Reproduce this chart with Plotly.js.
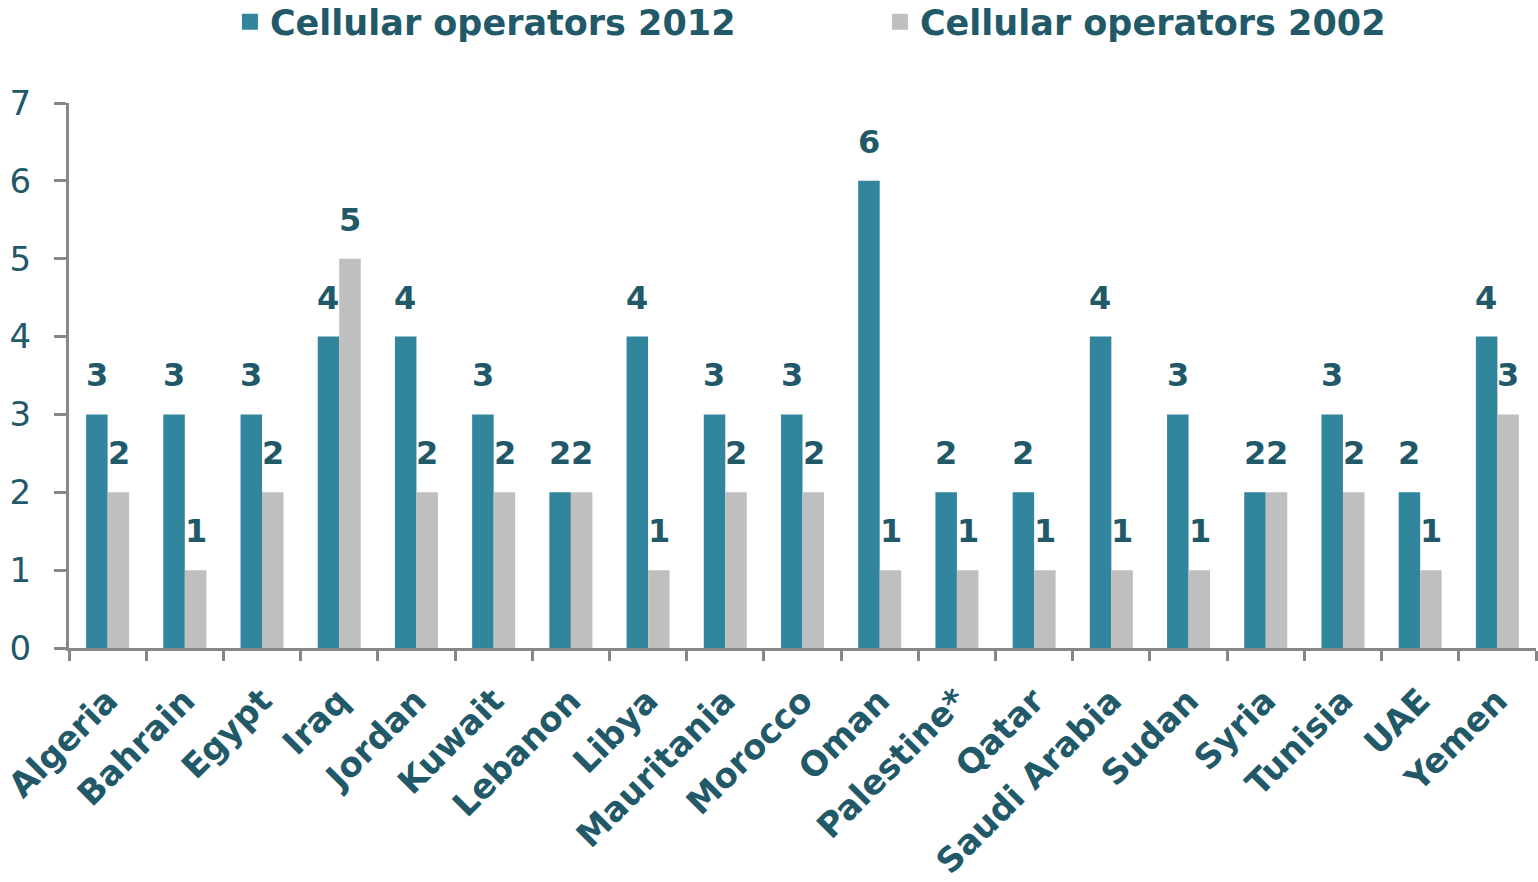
<!DOCTYPE html>
<html>
<head>
<meta charset="utf-8">
<script src="https://cdn.plot.ly/plotly-3.0.1.min.js"></script>
<style>html,body{margin:0;padding:0;background:#fff;}#chart{width:1538px;height:882px;}</style>
</head>
<body>
<div id="chart"></div>
<script>
const countries = ["Algeria","Bahrain","Egypt","Iraq","Jordan","Kuwait","Lebanon","Libya","Mauritania","Morocco","Oman","Palestine*","Qatar","Saudi Arabia","Sudan","Syria","Tunisia","UAE","Yemen"];
const operators2012 = [3,3,3,4,4,3,2,4,3,3,6,2,2,4,3,2,3,2,4];
const operators2002 = [2,1,2,5,2,2,2,1,2,2,1,1,1,1,1,2,2,1,3];
const seriesNames = ["Cellular operators 2012","Cellular operators 2002"];
const seriesColors = ["#31859C","#BFBFBF"];

const textColor = "#215968";
const axisColor = "#878787";
const fontFamily = "DejaVu Sans, Verdana, sans-serif";

const traces = [
  {type:"bar", name:seriesNames[0], x:countries, y:operators2012, marker:{color:seriesColors[0]}, showlegend:false, legendgroup:"a"},
  {type:"bar", name:seriesNames[1], x:countries, y:operators2002, marker:{color:seriesColors[1]}, showlegend:false, legendgroup:"b"},
  {type:"scatter", mode:"markers", name:seriesNames[0], x:countries, y:countries.map(()=>null), marker:{symbol:"square", size:16, color:seriesColors[0]}, legendgroup:"a", hoverinfo:"skip"},
  {type:"scatter", mode:"markers", name:seriesNames[1], x:countries, y:countries.map(()=>null), marker:{symbol:"square", size:16, color:seriesColors[1]}, legendgroup:"b", hoverinfo:"skip"}
];

const labelFont = {family:fontFamily, size:32, color:textColor, weight:"bold"};
const annotations = [];
countries.forEach((c,i)=>{
  annotations.push({x:c, y:operators2012[i], text:String(operators2012[i]), showarrow:false, xshift:-11, yshift:39, yanchor:"middle", font:labelFont});
  annotations.push({x:c, y:operators2002[i], text:String(operators2002[i]), showarrow:false, xshift:11, yshift:39, yanchor:"middle", font:labelFont});
});

const layout = {
  width:1538, height:882,
  margin:{l:69, r:2, t:103, b:234, autoexpand:false},
  paper_bgcolor:"#fff", plot_bgcolor:"#fff",
  barmode:"group", bargap:0.443, bargroupgap:0,
  showlegend:true,
  legend:{orientation:"h", x:0.1097, xanchor:"left", yref:"container", y:0.975, yanchor:"middle",
    font:{family:fontFamily, size:35, color:textColor, weight:"bold"}, entrywidth:605, traceorder:"normal"},
  xaxis:{type:"category", range:[-0.5, countries.length-0.5], tickson:"boundaries", ticks:"outside", ticklen:10, tickwidth:3, tickcolor:axisColor,
    showline:true, linecolor:axisColor, linewidth:3, showgrid:false, zeroline:false,
    tickangle:-45, ticklabelstandoff:16,
    tickfont:{family:fontFamily, size:34, color:textColor, weight:"bold"}},
  yaxis:{range:[0,7], dtick:1, tick0:0, ticks:"outside", ticklen:12, tickwidth:3, tickcolor:axisColor,
    showline:true, linecolor:axisColor, linewidth:3, showgrid:false, zeroline:false,
    ticklabelstandoff:16,
    tickfont:{family:fontFamily, size:34, color:textColor}},
  annotations:annotations,
  font:{family:fontFamily, color:textColor}
};

Plotly.newPlot("chart", traces, layout, {displayModeBar:false, staticPlot:true});
</script>
</body>
</html>
